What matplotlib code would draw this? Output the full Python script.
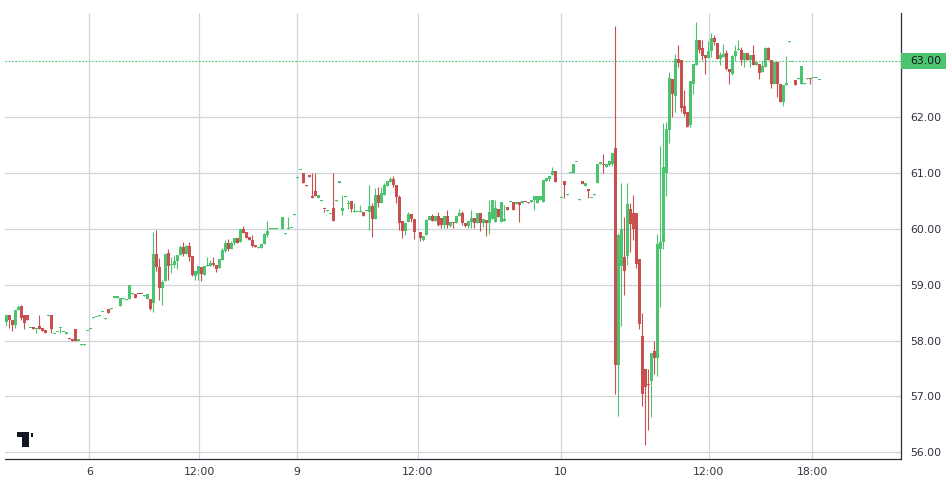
import matplotlib
matplotlib.use("Agg")
import matplotlib.pyplot as plt
from matplotlib.patches import Rectangle
from matplotlib.transforms import blended_transform_factory

# ---- data: one slot per bar (None = no bar in that slot) ----
opens = [
    58.33, 58.45, 58.37, 58.28, 58.54, 58.62, 58.45, 58.45, 58.22, 58.25,
    58.21, 58.27, 58.23, 58.19, 58.44, 58.45, 58.11, 58.15, 58.22, 58.15,
    58.12, 58.04, 58.02, 58.21, 58.00, 57.92, 57.92, 58.17, 58.21, 58.40,
    58.42, 58.44, 58.51, 58.39, 58.57, 58.57, 58.76, 58.77, 58.62, 58.75,
    58.73, 58.75, 58.83, 58.84, 58.84, 58.84, 58.79, 58.74, 58.75, 58.68,
    59.55, 59.31, 58.94, 59.06, 59.57, 59.36, 59.36, 59.43, 59.54, 59.67,
    59.55, 59.70, 59.52, 59.16, 59.20, 59.31, 59.18, 59.33, 59.33, 59.39,
    59.36, 59.30, 59.45, 59.61, 59.74, 59.64, 59.74, 59.83, 59.76, 60.00,
    59.95, 59.85, 59.80, 59.71, 59.66, 59.66, 59.73, 59.89, 60.00, 60.00,
    60.00, None, 60.00, 59.91, 59.99, 60.01, 60.25, 60.91, 61.05, 61.00,
    60.79, 60.96, 60.59, 60.68, 60.56, 60.50, 60.36, 60.32, 60.26, 60.37,
    60.50, 60.83, 60.32, 60.57, 60.45, 60.50, 60.30, 60.30, 60.30, 60.30,
    60.32, 60.31, 60.41, 60.17, 60.61, 60.47, 60.61, 60.77, 60.84, 60.90,
    60.79, 60.57, 60.14, 59.97, 60.12, 60.27, 60.17, None, 59.95, 59.80,
    59.89, 60.16, 60.23, 60.15, 60.23, 60.19, 60.07, 60.23, 60.05, 60.13,
    60.10, 60.23, 60.29, 60.10, 60.05, 60.13, 60.19, 60.10, 60.29, 60.10,
    60.16, 60.10, 60.17, 60.13, 60.35, 60.13, 60.15, 60.40, 60.48, 60.48,
    60.45, 60.48, 60.46, 60.49, 60.49, 60.49, 60.51, 60.47, 60.51, 60.49,
    60.86, 60.89, 60.96, 61.04, None, 60.55, 60.86, 60.61, 61.00, 61.00,
    61.19, 60.52, 60.86, 60.77, 60.71, 60.55, 60.61, 60.83, 61.17, 61.17,
    61.10, 61.15, 61.17, 61.44, 57.57, 59.33, 59.49, 59.52, 60.36, 60.29,
    60.29, 59.46, 58.08, 57.49, 57.21, 57.27, 57.81, 57.69, 59.64, 59.76,
    61.00, 61.77, 62.69, 62.38, 63.05, 63.02, 62.20, 62.10, 61.86, 62.60,
    62.93, 63.39, 63.24, 63.12, 63.06, 63.18, 63.42, 63.33, 63.05, 63.07,
    63.14, 62.87, 62.78, 63.09, 63.20, 63.20, 63.02, 63.15, 63.02, 63.12,
    62.93, 62.96, 62.80, 62.90, 63.24, 63.03, 62.60, 62.99, 62.60, 62.28,
    62.57, 63.35, 62.98, 62.67, 62.69, 62.60, 62.60, 62.69, 62.70, 62.70,
    62.70, 62.66,
]
highs = [
    58.46, 58.45, 58.37, 58.55, 58.64, 58.63, 58.45, 58.45, 58.23, 58.25,
    58.22, 58.45, 58.23, 58.19, 58.45, 58.45, 58.12, 58.16, 58.23, 58.16,
    58.15, 58.04, 58.02, 58.21, 58.01, 57.93, 57.93, 58.18, 58.22, 58.42,
    58.43, 58.45, 58.52, 58.40, 58.57, 58.58, 58.80, 58.78, 58.76, 58.76,
    58.75, 59.00, 58.86, 58.84, 58.84, 58.84, 58.82, 58.84, 58.75, 59.95,
    59.98, 59.48, 59.09, 59.55, 59.64, 59.49, 59.54, 59.54, 59.72, 59.77,
    59.72, 59.77, 59.52, 59.24, 59.33, 59.31, 59.33, 59.50, 59.45, 59.50,
    59.36, 59.46, 59.66, 59.80, 59.81, 59.79, 59.83, 59.83, 60.00, 60.05,
    59.95, 59.85, 59.89, 59.71, 59.67, 59.73, 59.93, 60.15, 60.01, 60.01,
    60.01, None, 60.21, 59.92, 60.21, 60.02, 60.26, 60.92, 61.06, 61.00,
    60.79, 60.96, 61.00, 61.00, 60.61, 60.51, 60.36, 60.33, 60.27, 61.00,
    60.51, 60.84, 60.61, 60.58, 60.52, 60.50, 60.46, 60.31, 60.42, 60.30,
    60.33, 60.79, 60.47, 60.73, 60.75, 60.75, 60.83, 60.86, 60.93, 60.95,
    60.79, 60.61, 60.14, 60.11, 60.30, 60.27, 60.17, None, 59.95, 59.88,
    60.18, 60.23, 60.27, 60.23, 60.31, 60.19, 60.23, 60.34, 60.13, 60.13,
    60.23, 60.35, 60.32, 60.10, 60.14, 60.34, 60.19, 60.29, 60.29, 60.17,
    60.16, 60.51, 60.51, 60.51, 60.35, 60.49, 60.43, 60.40, 60.49, 60.48,
    60.48, 60.48, 60.50, 60.49, 60.49, 60.50, 60.58, 60.58, 60.58, 60.88,
    60.91, 60.95, 61.10, 61.04, None, 60.56, 60.86, 60.62, 61.01, 61.17,
    61.20, 60.53, 60.86, 60.82, 60.71, 60.56, 60.62, 61.17, 61.18, 61.34,
    61.17, 61.22, 61.35, 63.63, 59.92, 60.82, 60.22, 60.83, 60.47, 60.60,
    60.29, 59.46, 58.49, 57.49, 57.49, 57.78, 58.00, 59.91, 61.48, 61.90,
    61.92, 62.81, 62.69, 63.13, 63.30, 63.02, 62.49, 62.10, 62.65, 62.95,
    63.70, 63.39, 63.38, 63.12, 63.36, 63.50, 63.48, 63.33, 63.17, 63.31,
    63.21, 62.87, 63.11, 63.30, 63.38, 63.26, 63.15, 63.15, 63.12, 63.30,
    62.98, 62.96, 63.01, 63.26, 63.26, 63.03, 62.98, 62.99, 62.60, 62.58,
    63.09, 63.36, 62.99, 62.67, 62.70, 62.91, 62.61, 62.70, 62.70, 62.71,
    62.71, 62.67,
]
lows = [
    58.27, 58.22, 58.18, 58.23, 58.54, 58.37, 58.21, 58.37, 58.22, 58.21,
    58.14, 58.21, 58.17, 58.13, 58.44, 58.14, 58.11, 58.15, 58.14, 58.15,
    58.12, 58.03, 57.99, 57.99, 58.00, 57.92, 57.92, 58.17, 58.21, 58.40,
    58.42, 58.44, 58.51, 58.39, 58.49, 58.57, 58.76, 58.77, 58.62, 58.75,
    58.73, 58.75, 58.83, 58.76, 58.83, 58.83, 58.79, 58.74, 58.55, 58.51,
    59.24, 58.73, 58.63, 59.06, 59.09, 59.21, 59.30, 59.29, 59.54, 59.51,
    59.55, 59.42, 59.16, 59.09, 59.09, 59.07, 59.18, 59.33, 59.33, 59.33,
    59.22, 59.30, 59.45, 59.59, 59.61, 59.64, 59.72, 59.75, 59.76, 59.93,
    59.83, 59.80, 59.67, 59.67, 59.66, 59.66, 59.73, 59.85, 60.00, 60.00,
    60.00, None, 60.00, 59.91, 59.99, 60.01, 60.25, 60.91, 61.05, 60.82,
    60.76, 60.93, 60.56, 60.59, 60.56, 60.50, 60.30, 60.32, 60.26, 60.15,
    60.50, 60.83, 60.25, 60.57, 60.35, 60.30, 60.30, 60.30, 60.30, 60.23,
    60.32, 59.98, 59.86, 60.17, 60.40, 60.47, 60.61, 60.77, 60.84, 60.75,
    60.46, 59.98, 59.84, 59.89, 60.12, 60.12, 59.81, None, 59.78, 59.78,
    59.89, 60.16, 60.15, 60.14, 60.05, 60.01, 60.01, 60.01, 60.03, 60.01,
    60.10, 60.23, 60.07, 60.03, 60.02, 60.01, 60.01, 60.10, 59.97, 60.03,
    59.88, 59.91, 60.17, 60.13, 60.22, 60.13, 60.15, 60.34, 60.48, 60.34,
    60.45, 60.13, 60.46, 60.48, 60.46, 60.49, 60.34, 60.47, 60.51, 60.49,
    60.86, 60.86, 60.96, 60.84, None, 60.55, 60.55, 60.61, 61.00, 61.00,
    61.19, 60.52, 60.80, 60.77, 60.55, 60.55, 60.61, 60.83, 61.17, 61.00,
    61.10, 61.12, 61.12, 57.04, 56.65, 58.26, 58.82, 59.36, 59.59, 59.80,
    59.30, 58.20, 56.83, 56.13, 56.40, 56.64, 57.40, 57.36, 58.61, 59.64,
    60.58, 61.54, 62.01, 62.09, 62.90, 62.09, 62.02, 61.83, 61.83, 62.41,
    62.93, 63.15, 63.03, 62.78, 63.06, 63.08, 63.30, 63.04, 62.94, 63.07,
    62.85, 62.60, 62.75, 63.00, 63.20, 62.93, 62.90, 63.02, 62.90, 62.94,
    62.93, 62.69, 62.80, 62.90, 63.02, 62.53, 62.60, 62.37, 62.27, 62.20,
    62.57, 63.35, 62.98, 62.58, 62.69, 62.60, 62.60, 62.69, 62.60, 62.70,
    62.70, 62.66,
]
closes = [
    58.45, 58.37, 58.28, 58.54, 58.61, 58.40, 58.32, 58.37, 58.23, 58.21,
    58.22, 58.21, 58.17, 58.13, 58.45, 58.21, 58.12, 58.16, 58.23, 58.16,
    58.15, 58.03, 57.99, 57.99, 58.01, 57.93, 57.93, 58.18, 58.22, 58.42,
    58.43, 58.45, 58.52, 58.40, 58.49, 58.58, 58.80, 58.78, 58.76, 58.76,
    58.75, 59.00, 58.86, 58.76, 58.83, 58.83, 58.82, 58.84, 58.56, 59.55,
    59.31, 58.94, 59.04, 59.55, 59.34, 59.38, 59.43, 59.54, 59.67, 59.55,
    59.70, 59.49, 59.18, 59.24, 59.33, 59.20, 59.33, 59.34, 59.39, 59.36,
    59.29, 59.46, 59.63, 59.74, 59.64, 59.74, 59.83, 59.75, 60.00, 59.93,
    59.83, 59.80, 59.70, 59.67, 59.67, 59.73, 59.91, 59.97, 60.01, 60.01,
    60.01, None, 60.21, 59.92, 60.00, 60.02, 60.26, 60.92, 61.06, 60.82,
    60.76, 60.93, 60.56, 60.59, 60.61, 60.51, 60.35, 60.33, 60.27, 60.15,
    60.51, 60.84, 60.38, 60.58, 60.46, 60.35, 60.31, 60.31, 60.31, 60.23,
    60.33, 60.41, 60.17, 60.61, 60.47, 60.64, 60.79, 60.86, 60.90, 60.79,
    60.57, 60.11, 59.97, 60.11, 60.27, 60.17, 59.95, None, 59.83, 59.88,
    60.16, 60.23, 60.15, 60.23, 60.07, 60.07, 60.23, 60.07, 60.13, 60.11,
    60.23, 60.29, 60.10, 60.05, 60.14, 60.19, 60.10, 60.29, 60.10, 60.17,
    60.10, 60.31, 60.51, 60.37, 60.22, 60.49, 60.16, 60.34, 60.49, 60.34,
    60.48, 60.43, 60.50, 60.48, 60.46, 60.50, 60.58, 60.58, 60.58, 60.88,
    60.91, 60.95, 61.04, 60.84, None, 60.56, 60.79, 60.62, 61.01, 61.17,
    61.20, 60.53, 60.80, 60.82, 60.68, 60.56, 60.62, 61.17, 61.18, 61.15,
    61.17, 61.22, 61.35, 57.57, 59.89, 60.00, 59.24, 60.45, 60.09, 60.00,
    59.38, 58.29, 57.04, 57.17, 57.20, 57.78, 57.69, 59.73, 59.76, 61.11,
    61.78, 62.71, 62.41, 63.05, 62.97, 62.17, 62.05, 61.83, 62.65, 62.95,
    63.38, 63.20, 63.09, 63.06, 63.18, 63.42, 63.35, 63.04, 63.11, 63.13,
    62.87, 62.81, 63.09, 63.18, 63.21, 63.02, 63.15, 63.02, 63.12, 62.94,
    62.98, 62.79, 62.92, 63.24, 63.02, 62.60, 62.98, 62.60, 62.27, 62.58,
    62.61, 63.36, 62.99, 62.58, 62.70, 62.91, 62.61, 62.70, 62.68, 62.71,
    62.71, 62.67,
]

# time-axis labels placed at bar-slot positions
x_tick_slots = [27.6, 64.3, 96.9, 137.1, 184.9, 234.1, 268.6]
x_tick_labels = ["6", "12:00", "9", "12:00", "10", "12:00", "18:00"]
y_ticks = [56, 57, 58, 59, 60, 61, 62]
last_price = 63.00

UP = "#4cc46f"
DOWN = "#c9504f"
GRID = "#d0d4dc"
AXIS = "#2a2e39"
TEXT = "#2f3340"

plt.rcParams["font.family"] = ["DejaVu Sans"]

W, H = 948, 479
fig = plt.figure(figsize=(W / 100, H / 100), dpi=100)
fig.patch.set_facecolor("white")
ax = fig.add_axes([5 / W, 20 / H, 896 / W, 446 / H])
ax.set_facecolor("white")

xs, lo, hi, bot, hgt, cols = [], [], [], [], [], []
for i, (o, h, l, c) in enumerate(zip(opens, highs, lows, closes)):
    if o is None:
        continue
    col = UP if c >= o else DOWN
    xs.append(i)
    lo.append(l)
    hi.append(h)
    b = min(o, c)
    ht = abs(c - o)
    if ht < 0.02:
        ht = 0.02
    bot.append(b)
    hgt.append(ht)
    cols.append(col)

ax.vlines(xs, lo, hi, colors=cols, linewidth=0.8, zorder=3)
ax.bar(xs, hgt, bottom=bot, width=0.8, color=cols, linewidth=0, zorder=4)

ax.set_xlim(-0.5, 298.17)
ax.set_ylim(55.88, 63.865)

ax.set_xticks(x_tick_slots)
ax.set_xticklabels(x_tick_labels)
ax.set_yticks(y_ticks)
ax.set_yticklabels([f"{v:.2f}" for v in y_ticks])
ax.yaxis.tick_right()
ax.grid(True, color=GRID, linewidth=0.9, zorder=0)
ax.set_axisbelow(True)
ax.tick_params(axis="both", length=0, labelsize=7.8, colors=TEXT)
ax.tick_params(axis="y", pad=6.5)
ax.tick_params(axis="x", pad=6)

for s in ("top", "left"):
    ax.spines[s].set_visible(False)
for s in ("bottom", "right"):
    ax.spines[s].set_color(AXIS)
    ax.spines[s].set_linewidth(0.9)

# last price line + label
ax.axhline(last_price, color=UP, linewidth=0.8, linestyle=(0, (1.5, 1.5)), zorder=2)
tr = blended_transform_factory(ax.transAxes, ax.transData)
half = 8 / 55.86
ax.add_patch(Rectangle((1.0, last_price - half), 45 / 896, 2 * half,
                       transform=tr, facecolor=UP, edgecolor="none",
                       clip_on=False, zorder=5))
ax.text(1.0 + 9 / 896, last_price, f"{last_price:.2f}", transform=tr,
        ha="left", va="center", fontsize=7.8, color="#131722", zorder=6,
        clip_on=False)

# small logo mark bottom-left
LOGO = "#131722"
for (px, py, pw, ph) in [(16.7, 432.3, 12.3, 5.0), (22.3, 432.3, 6.7, 15.0),
                         (31.3, 432.5, 1.8, 4.5)]:
    fig.add_artist(Rectangle((px / W, (H - py - ph) / H), pw / W, ph / H,
                             transform=fig.transFigure, facecolor=LOGO,
                             edgecolor="none"))

fig.savefig("out.png", dpi=100, facecolor="white")
